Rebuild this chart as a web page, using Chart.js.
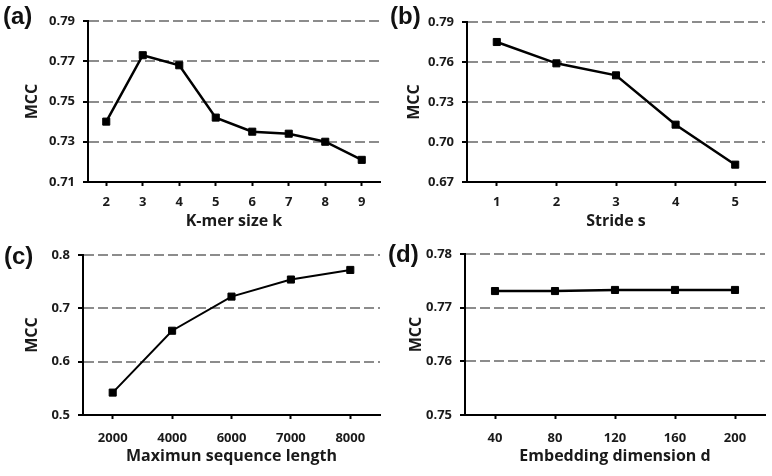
<!DOCTYPE html>
<html>
<head>
<meta charset="utf-8">
<script src="https://cdn.jsdelivr.net/npm/chart.js@4.4.1/dist/chart.umd.min.js"></script>
<style>
  body { margin: 0; background: #fff; }
  #wrap { position: relative; width: 772px; height: 476px; overflow: hidden; }
  canvas { position: absolute; }
  .tag { position: absolute; font-family: "Liberation Sans", Arial, sans-serif; font-size: 24px; font-weight: bold; line-height: 24px; color: #111; }
</style>
</head>
<body>
<div id="wrap">
  <canvas id="chartA" width="386" height="236" style="left:0;top:0"></canvas>
  <canvas id="chartB" width="386" height="236" style="left:386px;top:0"></canvas>
  <canvas id="chartC" width="386" height="240" style="left:0;top:236px"></canvas>
  <canvas id="chartD" width="386" height="240" style="left:386px;top:236px"></canvas>
  <div class="tag" style="left:3px;top:4px">(a)</div>
  <div class="tag" style="left:390px;top:4px">(b)</div>
  <div class="tag" style="left:4px;top:244px">(c)</div>
  <div class="tag" style="left:388px;top:242px">(d)</div>
</div>
<script>
// (a) k-mer size
const kmerSizes = ['2', '3', '4', '5', '6', '7', '8', '9'];
const mccKmer = [0.740, 0.773, 0.768, 0.742, 0.735, 0.734, 0.730, 0.721];
const yTicksA = [0.71, 0.73, 0.75, 0.77, 0.79];

// (b) stride
const strides = ['1', '2', '3', '4', '5'];
const mccStride = [0.775, 0.759, 0.750, 0.713, 0.683];
const yTicksB = [0.67, 0.70, 0.73, 0.76, 0.79];

// (c) max sequence length
const seqLengths = ['2000', '4000', '6000', '7000', '8000'];
const mccSeqLen = [0.542, 0.658, 0.722, 0.754, 0.772];
const yTicksC = [0.5, 0.6, 0.7, 0.8];

// (d) embedding dimension
const embedDims = ['40', '80', '120', '160', '200'];
const mccEmbed = [0.7731, 0.7731, 0.7733, 0.7733, 0.7733];
const yTicksD = [0.75, 0.76, 0.77, 0.78];

const FONT = '"Open Sans", sans-serif';
const tickFont = { family: FONT, size: 13, weight: 'bold' };
const titleFont = { family: FONT, size: 16, weight: 'bold' };

function makePanel(id, labels, values, yTicks, decimals, xTitle, box) {
  return new Chart(document.getElementById(id), {
    type: 'line',
    data: {
      labels: labels,
      datasets: [{
        data: values,
        borderColor: '#000',
        backgroundColor: '#000',
        borderWidth: box.line,
        tension: 0,
        pointStyle: 'rect',
        pointRadius: 5,
        pointBorderWidth: 1,
      }],
    },
    options: {
      responsive: false,
      animation: false,
      layout: { padding: { top: box.top, right: box.right, left: 0, bottom: 0 } },
      plugins: {
        legend: { display: false },
        tooltip: { enabled: false },
      },
      scales: {
        x: {
          offset: true,
          grid: {
            offset: false,
            drawOnChartArea: false,
            tickLength: 4,
            tickColor: '#000',
            tickWidth: 2,
          },
          border: { color: '#000', width: 2, z: 1 },
          ticks: { font: tickFont, color: '#1a1a1a', padding: box.xPad, maxRotation: 0, autoSkip: false },
          title: {
            display: true,
            text: xTitle,
            font: titleFont,
            color: '#1a1a1a',
            padding: { top: 0, bottom: box.xTitlePad },
          },
          afterFit: (s) => { s.height = box.xH; },
        },
        y: {
          min: yTicks[0],
          max: yTicks[yTicks.length - 1],
          afterBuildTicks: (s) => { s.ticks = yTicks.map((v) => ({ value: v })); },
          grid: {
            color: '#8c8c8c',
            lineWidth: 2,
            tickLength: 5,
            tickColor: '#000',
            tickWidth: 2,
            tickBorderDash: [0, 0],
          },
          // in v4 border.dash is what dashes the grid lines
          border: { color: '#000', width: 2, z: 1, dash: [10, 4] },
          ticks: {
            font: tickFont,
            color: '#1a1a1a',
            padding: 8,
            callback: (v) => Number(v).toFixed(decimals),
          },
          title: {
            display: true,
            text: 'MCC',
            font: titleFont,
            color: '#1a1a1a',
            padding: { top: box.yTitlePad, bottom: 0 },
          },
          afterFit: (s) => { s.width = box.yW; },
        },
      },
    },
  });
}

makePanel('chartA', kmerSizes, mccKmer, yTicksA, 2, 'K-mer size k',
  { top: 21, right: 1, yW: 88, xH: 54, xPad: 8, xTitlePad: 5, yTitlePad: 23, line: 2.5 });
makePanel('chartB', strides, mccStride, yTicksB, 2, 'Stride s',
  { top: 22, right: 7, yW: 81, xH: 54, xPad: 8, xTitlePad: 5, yTitlePad: 19, line: 2.5 });
makePanel('chartC', seqLengths, mccSeqLen, yTicksC, 1, 'Maximun sequence length',
  { top: 19, right: 3, yW: 83, xH: 61, xPad: 11, xTitlePad: 10, yTitlePad: 23, line: 2 });
makePanel('chartD', embedDims, mccEmbed, yTicksD, 2, 'Embedding dimension d',
  { top: 18, right: 7, yW: 79, xH: 61, xPad: 11, xTitlePad: 10, yTitlePad: 21, line: 2.5 });
</script>
</body>
</html>
